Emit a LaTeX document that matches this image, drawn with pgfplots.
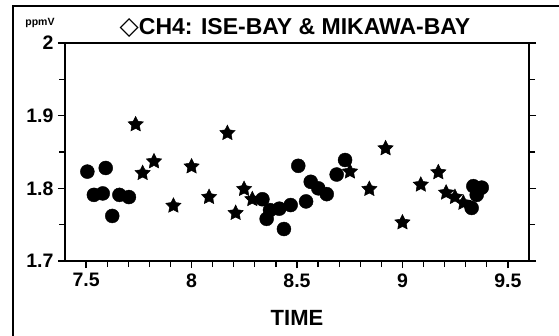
\documentclass[border=0pt]{standalone}
\usepackage{fontspec}
\setmainfont{Liberation Sans}
\newfontfamily\dejavu{DejaVu Sans}
\usepackage{pgfplots}
\pgfplotsset{compat=1.18}
\pgfdeclareplotmark{fstar}{%
  \pgfpathmoveto{\pgfpointpolar{90}{\pgfplotmarksize}}%
  \pgfpathlineto{\pgfpointpolar{126}{0.5\pgfplotmarksize}}%
  \pgfpathlineto{\pgfpointpolar{162}{\pgfplotmarksize}}%
  \pgfpathlineto{\pgfpointpolar{198}{0.5\pgfplotmarksize}}%
  \pgfpathlineto{\pgfpointpolar{234}{\pgfplotmarksize}}%
  \pgfpathlineto{\pgfpointpolar{270}{0.5\pgfplotmarksize}}%
  \pgfpathlineto{\pgfpointpolar{306}{\pgfplotmarksize}}%
  \pgfpathlineto{\pgfpointpolar{342}{0.5\pgfplotmarksize}}%
  \pgfpathlineto{\pgfpointpolar{18}{\pgfplotmarksize}}%
  \pgfpathlineto{\pgfpointpolar{54}{0.5\pgfplotmarksize}}%
  \pgfpathclose
  \pgfusepathqfillstroke
}
\begin{document}
\begin{tikzpicture}[x=1pt,y=1pt]
\path[use as bounding box] (0,0) rectangle (559,335);
\draw[line width=1.5pt] (13,-5) -- (13,329) -- (565,329);
\begin{axis}[
  at={(65pt,74pt)}, anchor=south west,
  scale only axis, width=464pt, height=218pt,
  xmin=7.4, xmax=9.6, ymin=1.7, ymax=2.0,
  xtick={7.5,8,8.5,9,9.5}, ytick={1.7,1.8,1.9,2},
  minor x tick num=4, minor y tick num=1,
  xtick pos=lower, ytick pos=both, yticklabel pos=left,
  tick align=outside,
  major tick length=7pt, minor tick length=6pt,
  axis line style={line width=1.6pt},
  every tick/.style={line width=1.3pt, black},
  /pgf/number format/assume math mode=true,
  ticklabel style={font=\bfseries\fontsize{19.5}{19.5}\selectfont},
  xticklabel style={yshift=-2pt},
  yticklabel style={xshift=-1pt},
]
\addplot[only marks, mark=*, mark size=7pt, mark options={fill=black, draw=black}] coordinates {
(7.506,1.823) (7.537,1.791) (7.579,1.793) (7.593,1.828) (7.624,1.762)
(7.658,1.791) (7.703,1.788) (8.336,1.785) (8.356,1.758) (8.372,1.770)
(8.416,1.772) (8.438,1.744) (8.470,1.777) (8.506,1.831) (8.543,1.782)
(8.565,1.809) (8.601,1.800) (8.641,1.792) (8.688,1.819) (8.728,1.839)
(9.328,1.773) (9.336,1.803) (9.352,1.791) (9.376,1.801)
};
\addplot[only marks, mark=fstar, mark size=8pt, mark options={fill=black, draw=black, line width=0.5pt}] coordinates {
(7.735,1.888) (7.768,1.821) (7.822,1.837) (7.914,1.776) (8.000,1.830)
(8.083,1.788) (8.170,1.876) (8.209,1.766) (8.249,1.799) (8.288,1.785)
(8.751,1.823) (8.843,1.799) (8.920,1.855) (9.000,1.753) (9.087,1.805)
(9.170,1.822) (9.207,1.794) (9.249,1.788) (9.289,1.780)
};
\end{axis}
\node[font=\bfseries\fontsize{23}{23}\selectfont] at (295,307) {{\dejavu\mdseries\fontsize{25}{25}\selectfont ◇}CH4: ISE-BAY \& MIKAWA-BAY};
\node[font=\bfseries\fontsize{10.5}{10.5}\selectfont] at (40,312) {ppmV};
\node[font=\bfseries\fontsize{22}{22}\selectfont] at (297,17) {TIME};
\end{tikzpicture}
\end{document}
